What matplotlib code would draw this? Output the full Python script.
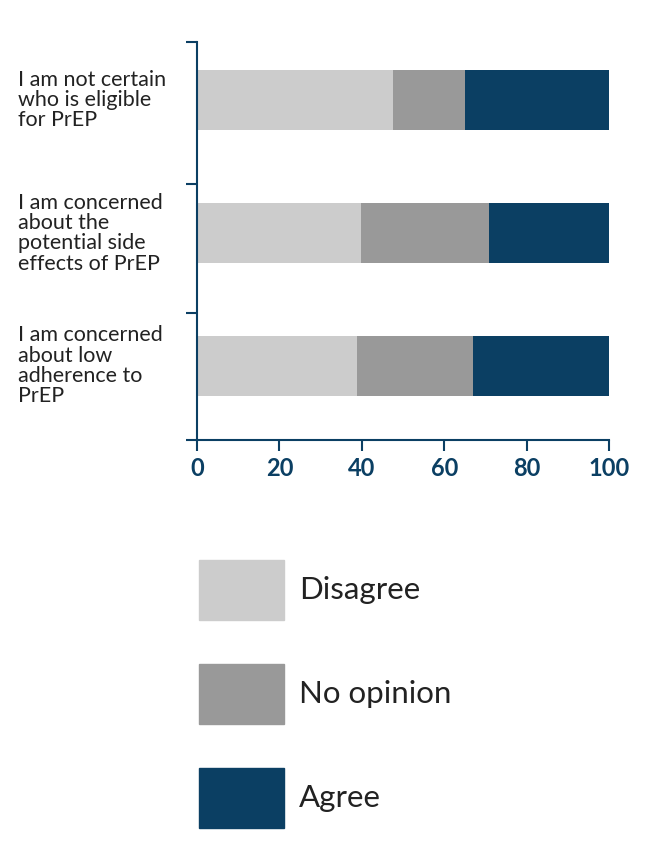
import matplotlib.pyplot as plt
from matplotlib.patches import Rectangle

plt.rcParams['font.family'] = ['Lato', 'DejaVu Sans']

categories = [
    "I am not certain\nwho is eligible\nfor PrEP",
    "I am concerned\nabout the\npotential side\neffects of PrEP",
    "I am concerned\nabout low\nadherence to\nPrEP",
]
disagree = [47.6, 39.8, 38.8]
no_opinion = [17.4, 31.1, 28.2]
agree = [35.0, 29.1, 33.0]
series_names = ["Disagree", "No opinion", "Agree"]
colors = ["#cccccc", "#999999", "#0b3f63"]
navy = "#0b3f63"

W, H = 646, 868
fig = plt.figure(figsize=(W / 100, H / 100), dpi=100)
ax = fig.add_axes([197 / W, (H - 440) / H, 412 / W, 398 / H])

ypos = [2.563, 1.560, 0.558]
left = [0, 0, 0]
for vals, col in zip([disagree, no_opinion, agree], colors):
    ax.barh(ypos, vals, left=left, height=0.45, color=col)
    left = [l + v for l, v in zip(left, vals)]

ax.set_xlim(0, 100)
ax.set_ylim(0, 3)
ax.set_xticks([0, 20, 40, 60, 80, 100])
ax.set_yticks([0, 0.957, 1.93, 3])
ax.set_yticklabels([])
ax.tick_params(axis='y', length=8, width=1.5, color=navy, direction='out')
ax.tick_params(axis='x', length=8, width=1.5, color=navy, labelcolor=navy,
               labelsize=17, pad=4)
for lab in ax.get_xticklabels():
    lab.set_fontweight('bold')
for s in ['top', 'right']:
    ax.spines[s].set_visible(False)
for s in ['left', 'bottom']:
    ax.spines[s].set_color(navy)
    ax.spines[s].set_linewidth(1.5)

for y, cat in zip(ypos, categories):
    ax.text(-179 / 412, y, cat, transform=ax.get_yaxis_transform(),
            ha='left', va='center', fontsize=15.5, color='#222222',
            linespacing=1.02)

# legend
lax = fig.add_axes([0, 0, 1, 1])
lax.set_xlim(0, W)
lax.set_ylim(H, 0)
lax.axis('off')
for i, (name, col) in enumerate(zip(series_names, colors)):
    top = 560 + 104 * i
    lax.add_patch(Rectangle((199, top), 85, 60, color=col))
    lax.text(299, top + 30, name, ha='left', va='center', fontsize=22.5,
             color='#222222')

fig.savefig("out.png", dpi=100)
